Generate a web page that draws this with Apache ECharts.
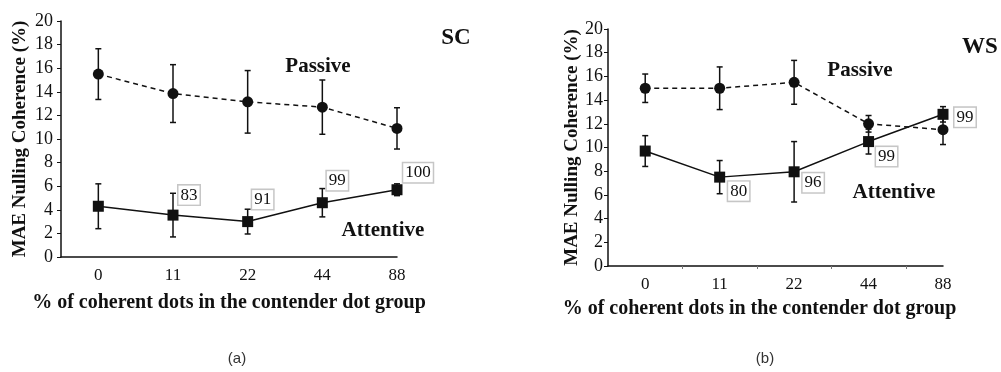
<!DOCTYPE html>
<html>
<head>
<meta charset="utf-8">
<script src="https://cdn.jsdelivr.net/npm/echarts@6/dist/echarts.min.js"></script>
<style>
  html, body { margin: 0; padding: 0; background: #fff; }
  #main { width: 1001px; height: 372px; }
</style>
</head>
<body>
<div id="main"></div>
<script>
var categories = ['0', '11', '22', '44', '88'];

// panel (a) SC
var passiveA = [15.5, 13.85, 13.15, 12.7, 10.9];
var passiveErrA = [2.15, 2.45, 2.65, 2.3, 1.75];
var attentiveA = [4.3, 3.55, 3.0, 4.6, 5.7];
var attentiveErrA = [1.9, 1.85, 1.05, 1.2, 0.5];
var boxA = [null, '83', '91', '99', '100'];

// panel (b) WS
var passiveB = [15.0, 15.0, 15.5, 12.0, 11.5];
var passiveErrB = [1.2, 1.8, 1.85, 0.7, 1.25];
var attentiveB = [9.7, 7.5, 7.95, 10.5, 12.8];
var attentiveErrB = [1.3, 1.4, 2.55, 1.05, 0.65];
var boxB = [null, '80', '96', '99', '99'];

var serif = "'Liberation Serif', 'Times New Roman', serif";
var ink = '#111';

// label offsets next to the squares (pixels)
var offA = [[0, 0], [16, -20], [15, -22], [15, -22], [21, -17]];
var offB = [[0, 0], [19, 14], [19, 11], [18, 15], [22, 3]];

function errData(vals, errs) {
    var out = [];
    for (var i = 0; i < vals.length; i++) {
        out.push([i, vals[i] - errs[i], vals[i] + errs[i]]);
    }
    return out;
}

function lineData(vals) {
    var out = [];
    for (var i = 0; i < vals.length; i++) out.push([i, vals[i]]);
    return out;
}

function boxedData(vals, boxes, offs) {
    var out = [];
    for (var i = 0; i < vals.length; i++) {
        var d = { value: [i, vals[i]] };
        if (boxes[i]) {
            d.label = {
                show: true,
                formatter: boxes[i],
                position: 'inside',
                offset: offs[i],
                fontFamily: serif,
                fontSize: 17,
                color: ink,
                backgroundColor: '#fff',
                borderColor: '#c6c6c6',
                borderWidth: 1.5,
                padding: [2, 2, 0, 2]
            };
        }
        out.push(d);
    }
    return out;
}

function renderErr(params, api) {
    var x = api.value(0);
    var lo = api.coord([x, api.value(1)]);
    var hi = api.coord([x, api.value(2)]);
    var cap = 3;
    var st = { stroke: ink, lineWidth: 1.5 };
    return {
        type: 'group',
        children: [
            { type: 'line', shape: { x1: lo[0], y1: lo[1], x2: hi[0], y2: hi[1] }, style: st },
            { type: 'line', shape: { x1: hi[0] - cap, y1: hi[1], x2: hi[0] + cap, y2: hi[1] }, style: st },
            { type: 'line', shape: { x1: lo[0] - cap, y1: lo[1], x2: lo[0] + cap, y2: lo[1] }, style: st }
        ]
    };
}

function xAxisCfg(idx, showMinor, nameGap, namePad) {
    return {
        gridIndex: idx,
        type: 'value',
        min: -0.5,
        max: 4,
        name: '% of coherent dots in the contender dot group',
        nameLocation: 'middle',
        nameGap: nameGap,
        nameTextStyle: { fontFamily: serif, fontWeight: 'bold', fontSize: 20, color: ink, padding: namePad },
        axisLine: { onZero: false, lineStyle: { color: ink, width: 1.5 } },
        axisTick: { show: showMinor, length: 3, customValues: [0.5, 1.5, 2.5, 3.5], lineStyle: { color: '#777' } },
        axisLabel: {
            customValues: [0, 1, 2, 3, 4],
            formatter: function (v) { return categories[Math.round(v)]; },
            fontFamily: serif, fontSize: 17, color: ink, margin: 10
        },
        splitLine: { show: false }
    };
}

function yAxisCfg(idx, nameGap, labMargin) {
    return {
        gridIndex: idx,
        type: 'value',
        min: 0,
        max: 20,
        interval: 2,
        name: 'MAE Nulling Coherence (%)',
        nameLocation: 'middle',
        nameGap: nameGap,
        nameTextStyle: { fontFamily: serif, fontWeight: 'bold', fontSize: 19, color: ink },
        axisLine: { show: true, onZero: false, lineStyle: { color: ink, width: 1.5 } },
        axisTick: { show: true, length: 4, lineStyle: { color: ink } },
        axisLabel: { fontFamily: serif, fontSize: 18, color: ink, margin: labMargin },
        splitLine: { show: false }
    };
}

function panelSeries(idx, passive, passiveErr, attentive, attentiveErr, boxes, offs) {
    return [
        {
            type: 'custom', xAxisIndex: idx, yAxisIndex: idx, renderItem: renderErr,
            data: errData(passive, passiveErr), z: 2, silent: true
        },
        {
            type: 'custom', xAxisIndex: idx, yAxisIndex: idx, renderItem: renderErr,
            data: errData(attentive, attentiveErr), z: 2, silent: true
        },
        {
            name: 'Passive', type: 'line', xAxisIndex: idx, yAxisIndex: idx,
            data: lineData(passive),
            symbol: 'circle', symbolSize: 11,
            lineStyle: { color: ink, width: 1.5, type: [5, 4] },
            itemStyle: { color: ink },
            z: 3
        },
        {
            name: 'Attentive', type: 'line', xAxisIndex: idx, yAxisIndex: idx,
            data: boxedData(attentive, boxes, offs),
            symbol: 'rect', symbolSize: 11,
            lineStyle: { color: ink, width: 1.5 },
            itemStyle: { color: ink },
            z: 4
        }
    ];
}

function note(txt, x, y, font) {
    return { type: 'text', x: x, y: y, style: { text: txt, font: font, fill: ink, textAlign: 'center', textVerticalAlign: 'middle' } };
}

var chart = echarts.init(document.getElementById('main'), null, { renderer: 'canvas' });

var bold = 'bold 21px ' + serif;
var option = {
    backgroundColor: '#fff',
    animation: false,
    grid: [
        { left: 61, top: 21, width: 336, height: 236, outerBoundsMode: 'none', containLabel: false },
        { left: 608, top: 29, width: 335, height: 237, outerBoundsMode: 'none', containLabel: false }
    ],
    xAxis: [
        xAxisCfg(0, false, 36, [0, 0, 0, 0]),
        xAxisCfg(1, true, 33, [0, 32, 0, 0])
    ],
    yAxis: [
        yAxisCfg(0, 31, 8),
        yAxisCfg(1, 26, 5)
    ],
    graphic: [
        note('Passive', 318, 67, bold),
        note('Attentive', 383, 231, bold),
        note('SC', 456, 38, 'bold 23px ' + serif),
        note('Passive', 860, 71, bold),
        note('Attentive', 894, 193, bold),
        note('WS', 980, 47, 'bold 23px ' + serif),
        { type: 'text', x: 237, y: 359, style: { text: '(a)', font: '15px Arial, sans-serif', fill: '#333', textAlign: 'center', textVerticalAlign: 'middle' } },
        { type: 'text', x: 765, y: 359, style: { text: '(b)', font: '15px Arial, sans-serif', fill: '#333', textAlign: 'center', textVerticalAlign: 'middle' } }
    ],
    series: [].concat(
        panelSeries(0, passiveA, passiveErrA, attentiveA, attentiveErrA, boxA, offA),
        panelSeries(1, passiveB, passiveErrB, attentiveB, attentiveErrB, boxB, offB)
    )
};

chart.setOption(option);
</script>
</body>
</html>
